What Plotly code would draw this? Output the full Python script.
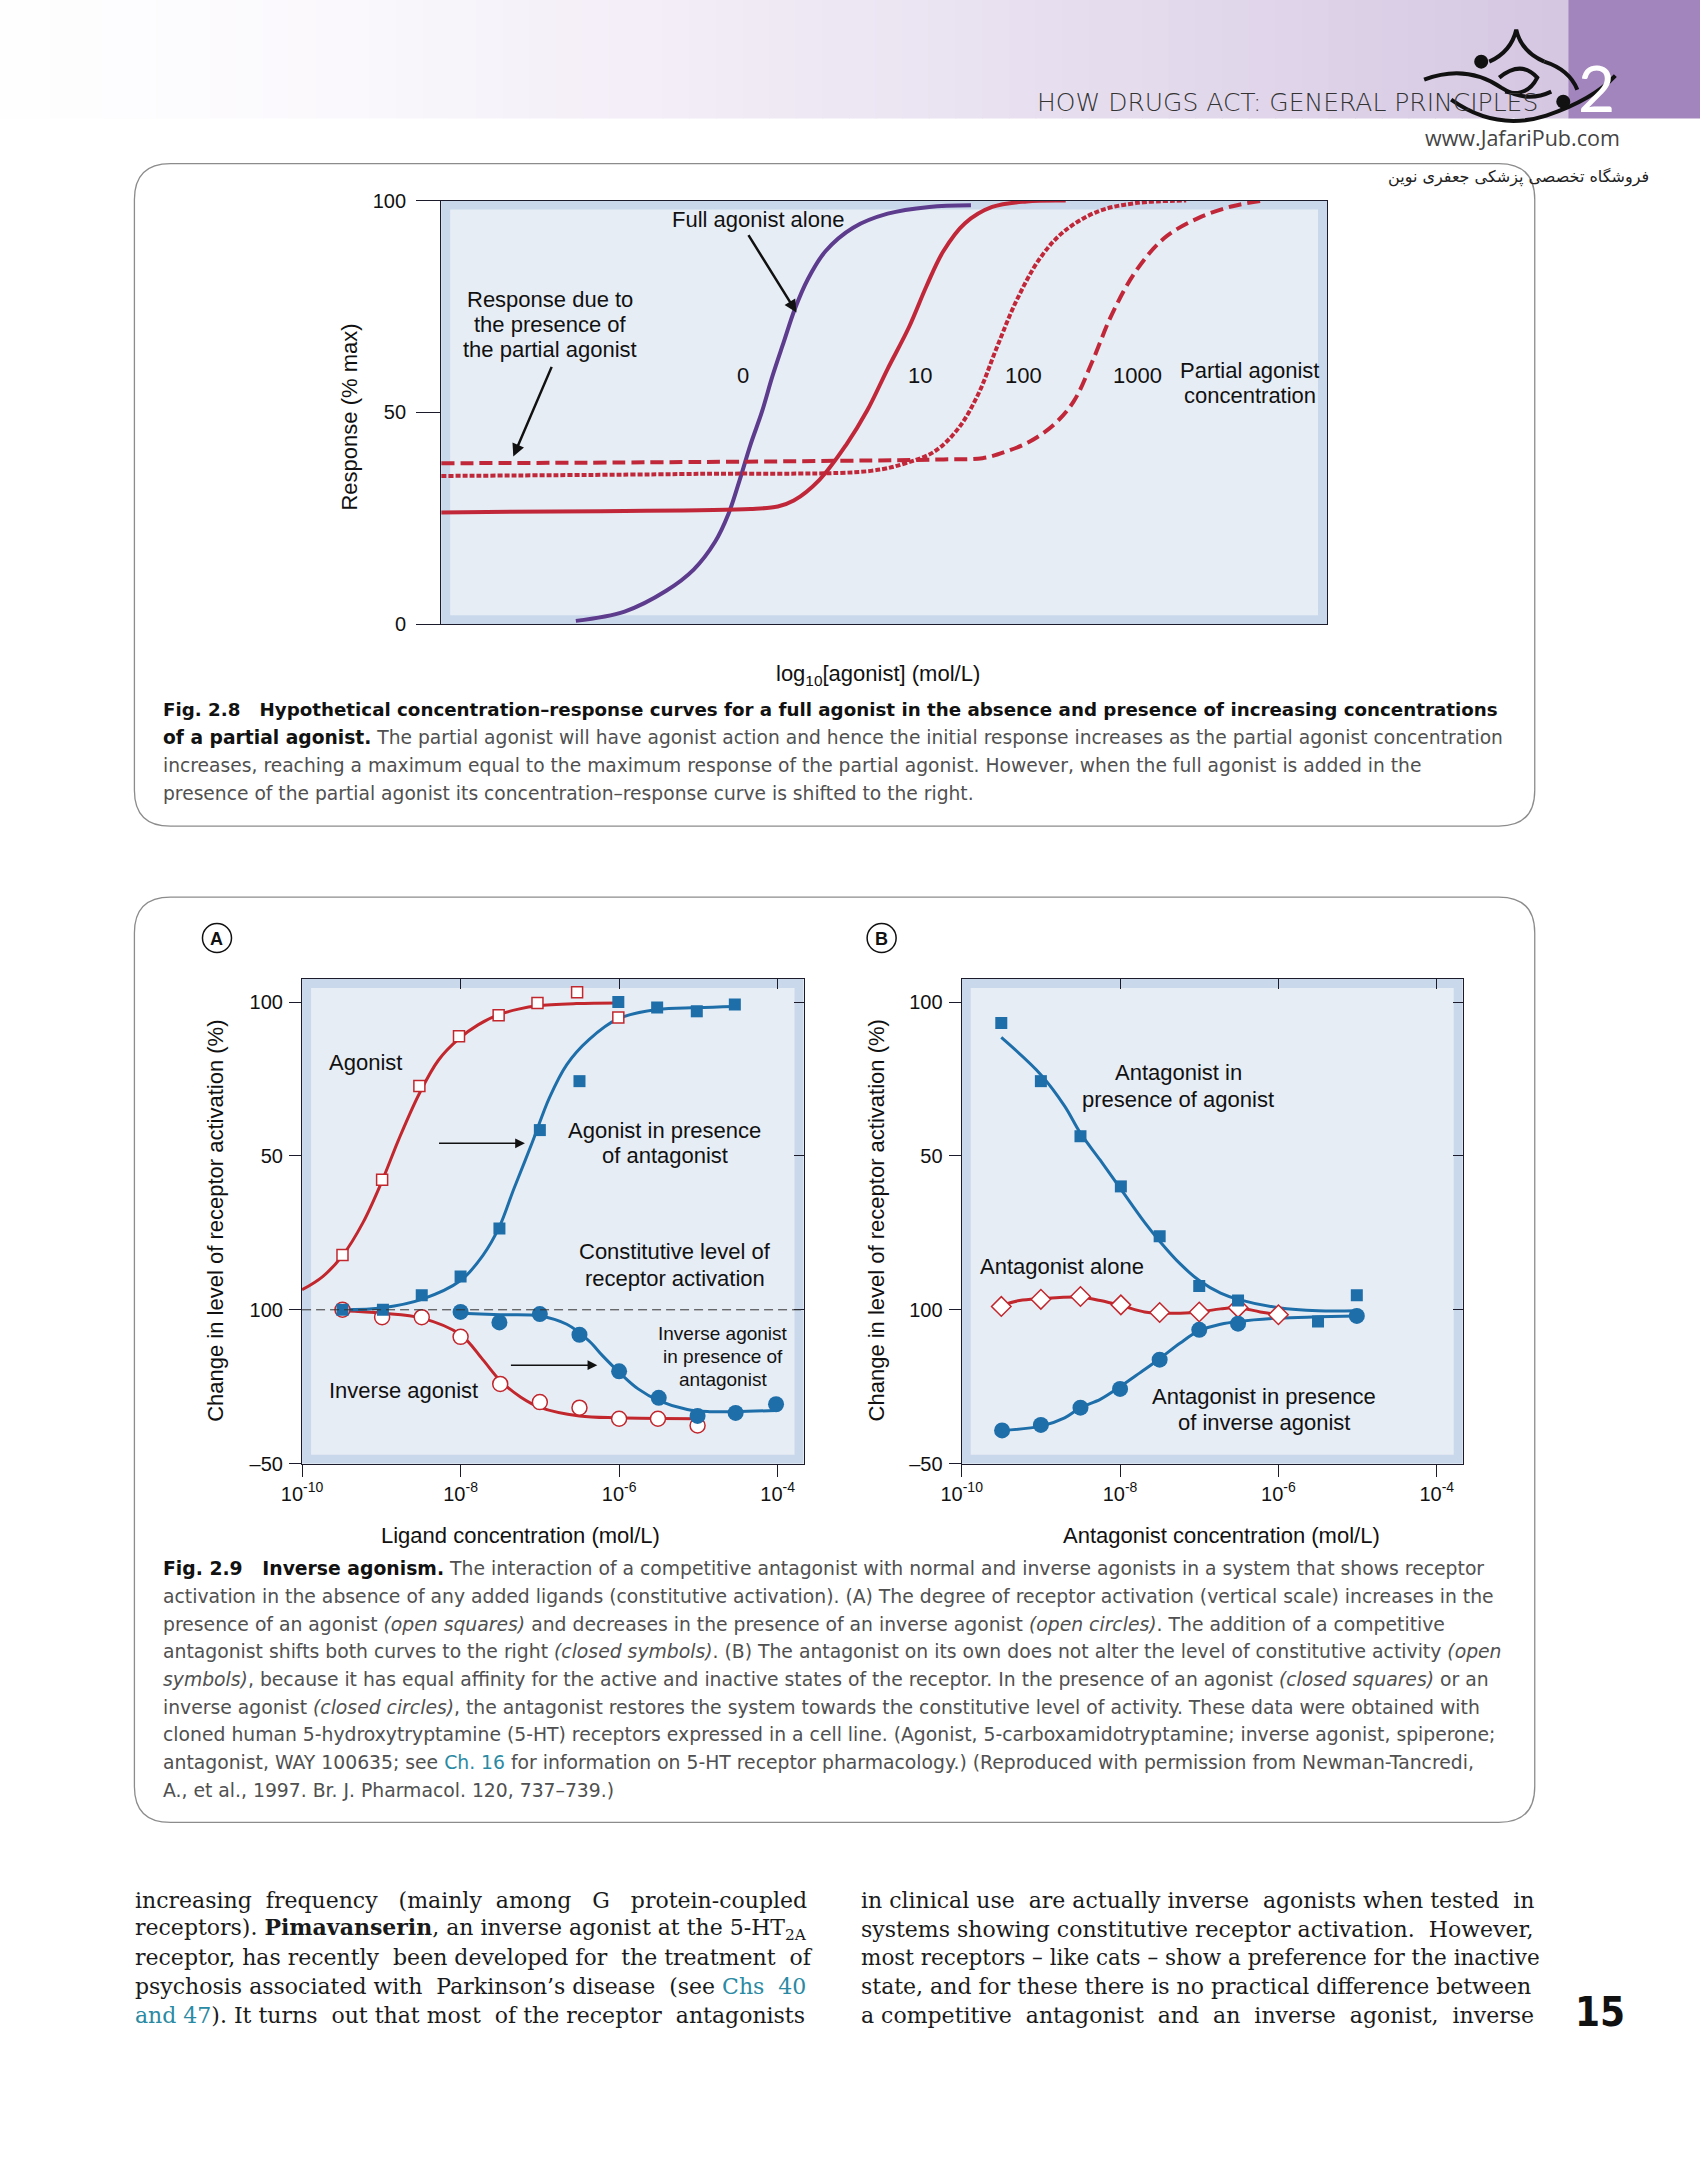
import plotly.graph_objects as go

W, H = 1700, 2175
# page-position calibration (measured from previous renders)
SX, OX = 0.9867, 21.2
SY, OY = 0.9906, 9.3
def fx(x): return ((x - OX) / SX) / W
def fy(y): return 1 - ((y - OY) / SY) / H

# ---------------- Fig 2.8 data (x: log10[agonist], arbitrary 0-10 units; y: response % max)
full_x = [1.52, 2.07, 2.54, 2.85, 3.09, 3.24, 3.37, 3.49, 3.62, 3.74, 3.87, 3.99, 4.14, 4.34, 4.65, 5.04, 5.51, 5.98]
full_y = [0.8, 3.0, 7.9, 12.9, 19.4, 25.9, 34.1, 42.3, 50.1, 58.6, 66.8, 74.3, 81.5, 88.1, 93.6, 96.9, 98.5, 98.9]
p10_x = [0.0, 1.80, 3.49, 3.80, 3.98, 4.27, 4.57, 4.81, 5.04, 5.28, 5.48, 5.67, 5.91, 6.22, 6.61, 7.05]
p10_y = [26.4, 26.7, 27.2, 27.8, 29.2, 34.1, 42.3, 50.5, 60.3, 70.1, 79.9, 88.1, 94.6, 98.5, 99.8, 100.0]
p100_x = [0.0, 2.93, 4.85, 5.24, 5.57, 5.84, 6.06, 6.27, 6.49, 6.76, 7.03, 7.41, 7.84, 8.41]
p100_y = [35.0, 35.5, 36.2, 38.0, 40.8, 46.3, 54.2, 65.2, 76.2, 86.4, 92.7, 97.4, 99.4, 100.0]
p1000_x = [0.0, 2.93, 5.67, 6.11, 6.38, 6.65, 6.92, 7.14, 7.35, 7.57, 7.84, 8.16, 8.54, 8.92, 9.28]
p1000_y = [38.0, 38.3, 38.9, 39.2, 40.8, 43.2, 47.2, 52.6, 62.0, 73.1, 83.3, 91.1, 95.8, 98.6, 100.0]
pa_labels = ["0", "10", "100", "1000"]
pa_label_x = [3.41, 5.40, 6.57, 7.86]

# ---------------- Fig 2.9 A data (x: log10 ligand concentration, y: change in activation %)
agon_pts_x = [-9.49, -8.99, -8.52, -8.02, -7.52, -7.03, -6.53, -6.01]
agon_pts_y = [17.8, 42.3, 72.7, 88.9, 95.7, 99.7, 103.2, 95.0]
agon_fit_x = [-10.0, -9.74, -9.49, -9.23, -8.99, -8.78, -8.52, -8.28, -8.02, -7.78, -7.52, -7.27, -7.03, -6.54, -6.01]
agon_fit_y = [6.5, 10.8, 17.6, 28.4, 41.9, 55.4, 70.3, 81.1, 88.1, 92.6, 95.9, 97.7, 98.8, 99.5, 99.7]
agant_pts_x = [-9.49, -8.98, -8.49, -8.0, -7.51, -7.0, -6.50, -6.01, -5.52, -5.02, -4.54]
agant_pts_y = [0.0, 0.0, 4.7, 10.8, 26.4, 58.4, 74.3, 100.0, 98.2, 97.0, 99.2]
agant_fit_x = [-9.49, -8.98, -8.49, -8.0, -7.72, -7.51, -7.33, -7.10, -6.88, -6.66, -6.38, -6.01, -5.52, -5.02, -4.54]
agant_fit_y = [0.0, 0.7, 3.4, 9.5, 17.6, 27.0, 39.2, 54.1, 68.9, 79.7, 87.8, 94.6, 97.6, 98.2, 98.6]
inv_pts_x = [-9.49, -8.99, -8.49, -8.0, -7.50, -7.0, -6.50, -6.0, -5.51, -5.01]
inv_pts_y = [0.0, -2.4, -2.4, -8.8, -24.1, -30.0, -31.8, -35.4, -35.4, -37.6]
inv_fit_x = [-9.49, -8.99, -8.49, -8.0, -7.72, -7.50, -7.24, -6.99, -6.50, -6.0, -5.03]
inv_fit_y = [-0.3, -1.1, -2.7, -8.1, -16.2, -23.0, -28.4, -31.8, -34.5, -35.1, -35.4]
invant_pts_x = [-8.0, -7.51, -7.0, -6.50, -6.0, -5.50, -5.01, -4.53, -4.02]
invant_pts_y = [-0.7, -4.1, -1.4, -8.1, -20.0, -28.6, -34.5, -33.5, -30.7]
invant_fit_x = [-8.0, -7.50, -7.0, -6.66, -6.38, -6.21, -6.0, -5.76, -5.50, -5.14, -4.86, -4.53, -4.02]
invant_fit_y = [-1.1, -1.6, -2.0, -4.7, -10.1, -14.9, -20.3, -25.7, -29.5, -32.4, -33.1, -33.1, -32.7]

# ---------------- Fig 2.9 B data (x: log10 antagonist concentration)
b_ag_pts_x = [-9.50, -9.0, -8.50, -7.99, -7.50, -7.0, -6.51, -5.50, -5.01]
b_ag_pts_y = [93.2, 74.3, 56.4, 40.1, 23.9, 7.7, 3.0, -3.8, 4.7]
b_ag_fit_x = [-9.50, -9.0, -8.70, -8.50, -8.25, -7.99, -7.69, -7.50, -7.24, -7.0, -6.73, -6.51, -6.0, -5.50, -5.01]
b_ag_fit_y = [88.5, 76.4, 66.2, 57.4, 48.6, 39.2, 28.4, 22.3, 14.9, 9.5, 5.4, 3.4, 0.7, -0.3, -0.3]
b_alone_pts_x = [-9.50, -9.0, -8.50, -7.99, -7.50, -7.0, -6.51, -6.0]
b_alone_pts_y = [1.1, 3.4, 4.3, 1.6, -0.9, -0.7, 0.7, -1.6]
b_alone_fit_x = [-9.50, -9.27, -9.0, -8.50, -8.25, -7.99, -7.69, -7.50, -7.24, -7.0, -6.73, -6.51, -6.23, -6.0]
b_alone_fit_y = [1.4, 3.0, 3.6, 4.1, 3.0, 1.4, -0.7, -1.1, -1.1, -0.7, 0.3, 0.7, -0.7, -1.6]
b_inv_pts_x = [-9.49, -9.0, -8.50, -8.0, -7.50, -7.0, -6.51, -5.01]
b_inv_pts_y = [-39.2, -37.4, -31.8, -25.7, -16.2, -6.5, -4.5, -2.0]
b_inv_fit_x = [-9.49, -9.0, -8.70, -8.50, -8.25, -8.0, -7.75, -7.50, -7.24, -7.0, -6.73, -6.51, -6.0, -5.50, -5.01]
b_inv_fit_y = [-39.2, -37.8, -35.1, -31.8, -29.1, -25.0, -20.5, -15.9, -10.8, -6.8, -4.7, -3.8, -2.7, -2.3, -2.0]

x_tickvals = [1e-10, 1e-8, 1e-6, 1e-4]
x_ticktext = ["10<sup>-10</sup>", "10<sup>-8</sup>", "10<sup>-6</sup>", "10<sup>-4</sup>"]
y29_tickvals = [-50, 0, 50, 100]
y29_ticktext = ["\u201350", "100", "50", "100"]
y28_tickvals = [0, 50, 100]

PURPLE = "#5d3b8d"
RED = "#c0283a"
RED2 = "#c1272d"
BLUE = "#1d6ea9"
SANS = "Liberation Sans, Arial, Helvetica, sans-serif"
CAPF = "DejaVu Sans, Verdana, sans-serif"
SERIF = "DejaVu Serif, Liberation Serif, serif"

def logs(v):
    return [10 ** a for a in v]

fig = go.Figure()

# ---- Fig 2.8 traces
fig.add_trace(go.Scatter(x=full_x, y=full_y, mode="lines", line=dict(color=PURPLE, width=4, shape="spline"), xaxis="x", yaxis="y"))
fig.add_trace(go.Scatter(x=p10_x, y=p10_y, mode="lines", line=dict(color=RED, width=4, shape="spline"), xaxis="x", yaxis="y"))
fig.add_trace(go.Scatter(x=p100_x, y=p100_y, mode="lines", line=dict(color=RED, width=4, shape="spline", dash="5px,2px"), xaxis="x", yaxis="y"))
fig.add_trace(go.Scatter(x=p1000_x, y=p1000_y, mode="lines", line=dict(color=RED, width=4, shape="spline", dash="13px,6px"), xaxis="x", yaxis="y"))

# ---- Fig 2.9 A traces
fig.add_trace(go.Scatter(x=logs(agon_fit_x), y=agon_fit_y, mode="lines", line=dict(color=RED2, width=3, shape="spline"), xaxis="x2", yaxis="y2"))
fig.add_trace(go.Scatter(x=logs(inv_fit_x), y=inv_fit_y, mode="lines", line=dict(color=RED2, width=3, shape="spline"), xaxis="x2", yaxis="y2"))
fig.add_trace(go.Scatter(x=logs(agant_fit_x), y=agant_fit_y, mode="lines", line=dict(color=BLUE, width=3, shape="spline"), xaxis="x2", yaxis="y2"))
fig.add_trace(go.Scatter(x=logs(invant_fit_x), y=invant_fit_y, mode="lines", line=dict(color=BLUE, width=3, shape="spline"), xaxis="x2", yaxis="y2"))
fig.add_trace(go.Scatter(x=logs(agon_pts_x), y=agon_pts_y, mode="markers",
                         marker=dict(symbol="square", size=11, color="white", line=dict(color=RED2, width=1.5)), xaxis="x2", yaxis="y2"))
fig.add_trace(go.Scatter(x=logs(inv_pts_x), y=inv_pts_y, mode="markers",
                         marker=dict(symbol="circle", size=15, color="white", line=dict(color=RED2, width=1.5)), xaxis="x2", yaxis="y2"))
fig.add_trace(go.Scatter(x=logs(agant_pts_x), y=agant_pts_y, mode="markers",
                         marker=dict(symbol="square", size=12, color=BLUE, line=dict(width=0)), xaxis="x2", yaxis="y2"))
fig.add_trace(go.Scatter(x=logs(invant_pts_x), y=invant_pts_y, mode="markers",
                         marker=dict(symbol="circle", size=16, color=BLUE, line=dict(width=0)), xaxis="x2", yaxis="y2"))

# ---- Fig 2.9 B traces
fig.add_trace(go.Scatter(x=logs(b_alone_fit_x), y=b_alone_fit_y, mode="lines", line=dict(color=RED2, width=3, shape="spline"), xaxis="x3", yaxis="y3"))
fig.add_trace(go.Scatter(x=logs(b_ag_fit_x), y=b_ag_fit_y, mode="lines", line=dict(color=BLUE, width=3, shape="spline"), xaxis="x3", yaxis="y3"))
fig.add_trace(go.Scatter(x=logs(b_inv_fit_x), y=b_inv_fit_y, mode="lines", line=dict(color=BLUE, width=3, shape="spline"), xaxis="x3", yaxis="y3"))
fig.add_trace(go.Scatter(x=logs(b_alone_pts_x), y=b_alone_pts_y, mode="markers",
                         marker=dict(symbol="diamond", size=15, color="white", line=dict(color=RED2, width=1.5)), xaxis="x3", yaxis="y3"))
fig.add_trace(go.Scatter(x=logs(b_ag_pts_x), y=b_ag_pts_y, mode="markers",
                         marker=dict(symbol="square", size=12, color=BLUE, line=dict(width=0)), xaxis="x3", yaxis="y3"))
fig.add_trace(go.Scatter(x=logs(b_inv_pts_x), y=b_inv_pts_y, mode="markers",
                         marker=dict(symbol="circle", size=16, color=BLUE, line=dict(width=0)), xaxis="x3", yaxis="y3"))

# dummy traces for mirrored (inside) tick axes
fig.add_trace(go.Scatter(x=[None], y=[None], xaxis="x4", yaxis="y4", hoverinfo="skip"))
fig.add_trace(go.Scatter(x=[None], y=[None], xaxis="x5", yaxis="y5", hoverinfo="skip"))

LINEC = "#1b1b2b"
tickfont = dict(family=SANS, size=20, color="#111")

A_X = (302, 803); B_X = (961, 1461.5); P_Y = (978, 1463)
XR = [-10, -3.673]; YR = [-50, 107.5]

def xlog(dom, anchor):
    return dict(type="log", range=XR, domain=[fx(dom[0]), fx(dom[1])], anchor=anchor, tickvals=x_tickvals,
                ticktext=x_ticktext, ticks="outside", ticklen=12, tickwidth=1.2, tickcolor=LINEC, showline=True,
                linecolor=LINEC, linewidth=1.3, mirror=True, showgrid=False, zeroline=False, tickfont=tickfont,
                fixedrange=True)

def y29(anchor):
    return dict(range=YR, domain=[fy(P_Y[1]), fy(P_Y[0])], anchor=anchor, tickvals=y29_tickvals, ticktext=y29_ticktext,
                ticks="outside", ticklen=12, tickwidth=1.2, tickcolor=LINEC, showline=True, linecolor=LINEC,
                linewidth=1.3, mirror=True, showgrid=False, zeroline=False, tickfont=tickfont, ticklabelstandoff=2,
                fixedrange=True)

def xover(base, anchor):
    return dict(type="log", range=XR, overlaying=base, anchor=anchor, side="top", tickvals=x_tickvals[1:],
                ticks="inside", ticklen=10, tickwidth=1.2, tickcolor=LINEC, showticklabels=False, showline=False,
                showgrid=False, zeroline=False, fixedrange=True)

def yover(base, anchor):
    return dict(range=YR, overlaying=base, anchor=anchor, side="right", tickvals=[0, 50, 100],
                ticks="inside", ticklen=10, tickwidth=1.2, tickcolor=LINEC, showticklabels=False, showline=False,
                showgrid=False, zeroline=False, fixedrange=True)

fig.update_layout(
    width=W, height=H, autosize=False, margin=dict(l=0, r=0, t=0, b=0),
    paper_bgcolor="white", plot_bgcolor="#c9d8ea", showlegend=False,
    xaxis=dict(domain=[fx(441), fx(1326)], range=[0, 10], anchor="y", showticklabels=False, ticks="",
               showline=True, linecolor=LINEC, linewidth=1.3, mirror=True, showgrid=False, zeroline=False, fixedrange=True),
    yaxis=dict(domain=[fy(623), fy(199)], range=[0, 100], anchor="x", tickvals=y28_tickvals, ticks="outside",
               ticklen=24, tickwidth=1.2, tickcolor=LINEC, showline=True, linecolor=LINEC, linewidth=1.3, mirror=True,
               showgrid=False, zeroline=False, tickfont=tickfont, ticklabelstandoff=6, fixedrange=True),
    xaxis2=xlog(A_X, "y2"), yaxis2=y29("x2"),
    xaxis3=xlog(B_X, "y3"), yaxis3=y29("x3"),
    xaxis4=xover("x2", "y4"), yaxis4=yover("y2", "x4"),
    xaxis5=xover("x3", "y5"), yaxis5=yover("y3", "x5"),
)

shapes = []
# header gradient
stops = [(-30, (255, 255, 255)), (350, (250, 248, 252)), (750, (240, 234, 245)), (1150, (228, 219, 237)), (1567, (212, 198, 226))]
def grad(x):
    for (xa, ca), (xb, cb) in zip(stops[:-1], stops[1:]):
        if xa <= x <= xb:
            t = (x - xa) / (xb - xa)
            return "rgb(%d,%d,%d)" % tuple(round(ca[i] + (cb[i] - ca[i]) * t) for i in range(3))
    return "rgb(212,198,226)"
NS = 60
for i in range(NS):
    xa = -30 + 1597 * i / NS; xb = -30 + 1597 * (i + 1) / NS
    shapes.append(dict(type="rect", xref="paper", yref="paper", x0=fx(xa), x1=fx(min(xb + 1, 1567)), y0=fy(117), y1=fy(-20),
                       fillcolor=grad((xa + xb) / 2), line=dict(width=0), layer="below"))
shapes.append(dict(type="rect", xref="paper", yref="paper", x0=fx(1567), x1=fx(1720), y0=fy(117), y1=fy(-20),
                   fillcolor="#a385bd", line=dict(width=0), layer="below"))

# rounded figure boxes
def rbox(x0, y0, x1, y1, r):
    p = (f"M {fx(x0 + r)},{fy(y0)} L {fx(x1 - r)},{fy(y0)} Q {fx(x1)},{fy(y0)} {fx(x1)},{fy(y0 + r)} "
         f"L {fx(x1)},{fy(y1 - r)} Q {fx(x1)},{fy(y1)} {fx(x1 - r)},{fy(y1)} L {fx(x0 + r)},{fy(y1)} "
         f"Q {fx(x0)},{fy(y1)} {fx(x0)},{fy(y1 - r)} L {fx(x0)},{fy(y0 + r)} Q {fx(x0)},{fy(y0)} {fx(x0 + r)},{fy(y0)} Z")
    return dict(type="path", path=p, xref="paper", yref="paper", line=dict(color="#8c8c8c", width=1.3), layer="below")
shapes.append(rbox(134.5, 162, 1533.5, 825, 36))
shapes.append(rbox(134.5, 896, 1533.5, 1822, 36))

# inner panel fills (bevel)
def inner(xd, yd, wpx, hpx, inset=9):
    return dict(type="rect", xref=xd, yref=yd, x0=inset / wpx, x1=1 - inset / wpx, y0=inset / hpx, y1=1 - inset / hpx,
                fillcolor="#e7edf5", line=dict(width=0), layer="below")
shapes.append(inner("x domain", "y domain", 885, 424))
shapes.append(inner("x2 domain", "y2 domain", A_X[1] - A_X[0], P_Y[1] - P_Y[0]))
shapes.append(inner("x3 domain", "y3 domain", B_X[1] - B_X[0], P_Y[1] - P_Y[0]))

# constitutive level dashed line (panel A)
shapes.append(dict(type="line", xref="x2 domain", yref="y2", x0=0, x1=1, y0=0, y1=0,
                   line=dict(color="#333", width=1, dash="9px,5px")))

# A / B circles
for cx in (217, 881):
    shapes.append(dict(type="circle", xref="paper", yref="paper", x0=fx(cx - 14.5), x1=fx(cx + 14.5),
                       y0=fy(937 + 14.5), y1=fy(937 - 14.5), line=dict(color="#111", width=1.5), fillcolor="white"))

# logo (approximate calligraphic strokes)
logo = [
    [("", 1488, 60), ("Q", 1510, 50), ("", 1515, 28), ("Q", 1520, 50), ("", 1543, 60)],
    [("", 1423, 78), ("Q", 1465, 62), ("", 1500, 86), ("Q", 1525, 102), ("", 1550, 90)],
    [("", 1450, 98), ("Q", 1495, 130), ("", 1545, 114), ("Q", 1592, 98), ("", 1614, 74)],
    [("", 1543, 60), ("Q", 1568, 68), ("", 1576, 88)],
    [("", 1498, 76), ("Q", 1520, 58), ("", 1536, 76), ("Q", 1526, 96), ("", 1504, 90)],
]
for seg in logo:
    d = "M %.5f,%.5f" % (fx(seg[0][1]), fy(seg[0][2]))
    rest = seg[1:]
    j = 0
    while j < len(rest):
        c, x, y = rest[j]
        if c == "Q":
            x2, y2 = rest[j + 1][1], rest[j + 1][2]
            d += " Q %.5f,%.5f %.5f,%.5f" % (fx(x), fy(y), fx(x2), fy(y2))
            j += 2
        else:
            d += " L %.5f,%.5f" % (fx(x), fy(y))
            j += 1
    shapes.append(dict(type="path", path=d, xref="paper", yref="paper", line=dict(color="#111", width=4)))
for cx, cy in ((1480, 60), (1562, 100)):
    shapes.append(dict(type="circle", xref="paper", yref="paper", x0=fx(cx - 7), x1=fx(cx + 7), y0=fy(cy + 7), y1=fy(cy - 7),
                       fillcolor="#111", line=dict(width=0)))

fig.update_layout(shapes=shapes)

ann = []
def pa(text, x, y, size=19, xanchor="left", color="#111", family=SANS, yanchor="middle", angle=0, weight=None):
    f = dict(family=family, size=size, color=color)
    if weight:
        f["weight"] = weight
    ann.append(dict(text=text, x=fx(x), y=fy(y), xref="paper", yref="paper", showarrow=False, xanchor=xanchor,
                    yanchor=yanchor, textangle=angle, font=f))
def da(text, x, y, xr, yr, size=22, xanchor="center"):
    ann.append(dict(text=text, x=x, y=y, xref=xr, yref=yr, showarrow=False, xanchor=xanchor, yanchor="middle",
                    font=dict(family=SANS, size=size, color="#111")))
def arrow(x, y, ax, ay, xr, yr, w=2.5, size=1.0):
    ann.append(dict(text="", x=x, y=y, ax=ax, ay=ay, xref=xr, yref=yr, axref=xr, ayref=yr, showarrow=True,
                    arrowhead=2, arrowsize=size, arrowwidth=w, arrowcolor="#111", standoff=0))

def justify(text, extra):
    # widen word gaps (outside html tags) with non-breaking spaces to mimic justified text
    parts, buf, depth = [], "", 0
    for ch in text:
        if ch == "<":
            depth += 1
        elif ch == ">":
            depth -= 1
        if ch == " " and depth == 0:
            parts.append(buf); buf = ""
        else:
            buf += ch
    parts.append(buf)
    gaps = len(parts) - 1
    if gaps <= 0 or extra <= 0:
        return text
    out = parts[0]
    for i in range(gaps):
        k = (i + 1) * extra // gaps - i * extra // gaps
        out += " " + "\u00a0" * k + parts[i + 1]
    return out

# header texts
pa("HOW DRUGS ACT: GENERAL PRINCIPLES", 1034, 101, size=25, color="#333",
   family="DejaVu Sans ExtraLight, DejaVu Sans, sans-serif", weight=200)
pa("2", 1595, 86, size=64, xanchor="center", color="white", family="Lato, Open Sans, sans-serif")
pa("www.JafariPub.com", 1521, 136, size=21.5, xanchor="center", color="#444", family="Open Sans, Noto Sans, sans-serif")
pa("فروشگاه تخصصی پزشکی جعفری نوین", 1650, 175, size=16, xanchor="right", color="#222", family="DejaVu Sans, Noto Sans, sans-serif")

# Fig 2.8 labels
da("Full agonist alone", 3.571, 95.5, "x", "y")
for t, yy in zip(["Response due to", "the presence of", "the partial agonist"], [76.7, 70.8, 64.9]):
    da(t, 1.232, yy, "x", "y")
for t, xx in zip(pa_labels, pa_label_x):
    da(t, xx, 58.7, "x", "y")
da("Partial agonist", 9.13, 59.9, "x", "y")
da("concentration", 9.13, 54.0, "x", "y")
arrow(4.011, 73.6, 3.458, 92.2, "x", "y")
arrow(0.814, 39.6, 1.254, 61.1, "x", "y")
pa("Response (% max)", 349, 416, size=22, xanchor="center", angle=-90)
pa("log<sub>10</sub>[agonist] (mol/L)", 877, 674, size=22, xanchor="center")

# Fig 2.8 caption
cap_c = "#505050"
cap28 = [
    "<b style='color:#111'>Fig. 2.8\u00a0\u00a0\u00a0Hypothetical concentration\u2013response curves for a full agonist in the absence and presence of increasing concentrations</b>",
    "<b style='color:#111'>of a partial agonist.</b> The partial agonist will have agonist action and hence the initial response increases as the partial agonist concentration",
    "increases, reaching a maximum equal to the maximum response of the partial agonist. However, when the full agonist is added in the",
    "presence of the partial agonist its concentration\u2013response curve is shifted to the right.",
]
for i, t in enumerate(cap28):
    pa(t, 161, 708.5 + 27.8 * i, size=(18.25 if i == 0 else 18.7), color=cap_c, family=CAPF)

# Fig 2.9 panel labels
pa("<b>A</b>", 217, 938, size=18, xanchor="center")
pa("<b>B</b>", 881, 938, size=18, xanchor="center")
da("Agonist", -9.68, 80.5, "x2", "y2", xanchor="left")
da("Agonist in presence", -5.423, 58.4, "x2", "y2")
da("of antagonist", -5.423, 50.0, "x2", "y2")
da("Constitutive level of", -5.30, 18.9, "x2", "y2")
da("receptor activation", -5.30, 10.1, "x2", "y2")
for t, yy in zip(["Inverse agonist", "in presence of", "antagonist"], [-7.8, -15.1, -22.6]):
    da(t, -4.695, yy, "x2", "y2", size=19)
da("Inverse agonist", -8.717, -26.1, "x2", "y2")
arrow(-7.188, 54.1, -8.291, 54.1, "x2", "y2", w=1.5, size=1.3)
arrow(-6.275, -18.0, -7.384, -18.0, "x2", "y2", w=1.5, size=1.3)

da("Antagonist in", -7.268, 77.0, "x3", "y3")
da("presence of agonist", -7.268, 68.2, "x3", "y3")
da("Antagonist alone", -8.732, 14.2, "x3", "y3")
da("Antagonist in presence", -6.180, -28.1, "x3", "y3")
da("of inverse agonist", -6.180, -36.5, "x3", "y3")

pa("Change in level of receptor activation (%)", 216, 1220, size=22, xanchor="center", angle=-90)
pa("Change in level of receptor activation (%)", 876, 1220, size=22, xanchor="center", angle=-90)
pa("Ligand concentration (mol/L)", 520, 1535, size=22, xanchor="center")
pa("Antagonist concentration (mol/L)", 1221, 1535, size=22, xanchor="center")

LINK = "#2a8aa3"
cap29 = [
    "<b style='color:#111'>Fig. 2.9\u00a0\u00a0\u00a0Inverse agonism.</b> The interaction of a competitive antagonist with normal and inverse agonists in a system that shows receptor",
    "activation in the absence of any added ligands (constitutive activation). (A) The degree of receptor activation (vertical scale) increases in the",
    "presence of an agonist <i>(open squares)</i> and decreases in the presence of an inverse agonist <i>(open circles)</i>. The addition of a competitive",
    "antagonist shifts both curves to the right <i>(closed symbols)</i>. (B) The antagonist on its own does not alter the level of constitutive activity <i>(open</i>",
    "<i>symbols)</i>, because it has equal affinity for the active and inactive states of the receptor. In the presence of an agonist <i>(closed squares)</i> or an",
    "inverse agonist <i>(closed circles)</i>, the antagonist restores the system towards the constitutive level of activity. These data were obtained with",
    "cloned human 5-hydroxytryptamine (5-HT) receptors expressed in a cell line. (Agonist, 5-carboxamidotryptamine; inverse agonist, spiperone;",
    f"antagonist, WAY 100635; see <span style='color:{LINK}'>Ch. 16</span> for information on 5-HT receptor pharmacology.) (Reproduced with permission from Newman-Tancredi,",
    "A., et al., 1997. Br. J. Pharmacol. 120, 737\u2013739.)",
]
for i, t in enumerate(cap29):
    pa(t, 161, 1568 + 27.75 * i, size=18.8, color=cap_c, family=CAPF)

# body text (justified columns)
left_col = [
    "increasing frequency (mainly among G protein-coupled",
    "receptors). <b>Pimavanserin</b>, an inverse agonist at the 5-HT<sub>2A</sub>",
    "receptor, has recently been developed for the treatment of",
    f"psychosis associated with Parkinson\u2019s disease (see <span style='color:{LINK}'>Chs 40</span>",
    f"<span style='color:{LINK}'>and 47</span>). It turns out that most of the receptor antagonists",
]
left_extra = [8, 0, 3, 3, 3]
right_col = [
    "in clinical use are actually inverse agonists when tested in",
    "systems showing constitutive receptor activation. However,",
    "most receptors \u2013 like cats \u2013 show a preference for the inactive",
    "state, and for these there is no practical difference between",
    "a competitive antagonist and an inverse agonist, inverse",
]
right_extra = [3, 1, 0, 0, 6]
right_size = [22, 22, 21.5, 22, 22]
for i, t in enumerate(left_col):
    pa(justify(t, left_extra[i]), 133, 1900 + 28.8 * i, size=22, color="#1a1a1a", family=SERIF)
for i, t in enumerate(right_col):
    pa(justify(t, right_extra[i]), 858, 1900 + 28.8 * i, size=right_size[i], color="#1a1a1a", family=SERIF)
pa("<b>15</b>", 1599, 2012, size=40, xanchor="center", color="#111", family="Liberation Sans Narrow, DejaVu Sans Condensed, sans-serif")

fig.update_layout(annotations=ann)
post = ("document.documentElement.style.margin='0';document.documentElement.style.padding='0';"
        "document.body.style.margin='0';document.body.style.padding='0';document.body.style.overflow='hidden';"
        "var d=document.getElementById('{plot_id}');d.style.position='absolute';d.style.left='0px';d.style.top='0px';")
fig.write_html("out.html", config={"displayModeBar": False}, post_script=post)
